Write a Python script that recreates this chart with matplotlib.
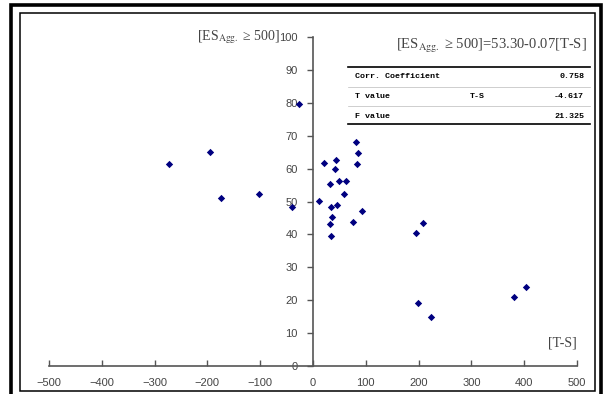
import matplotlib.pyplot as plt
from matplotlib.lines import Line2D
from matplotlib.patches import Rectangle

# data
ts = [-272, -196, -175, -102, -40, -26,
      82, 85, 20, 44, 83, 41.5, 32, 50, 62, 58, 11, 34, 46, 92,
      36.5, 32, 75.5, 34.5, 209, 196,
      198, 223, 380, 403]
es = [61.3, 65, 51, 52.4, 48.3, 79.5,
      68, 64.6, 61.7, 62.7, 61.3, 59.8, 55.4, 56.1, 56.1, 52.3, 50.1, 48.3, 49, 47.2,
      45.2, 43.3, 43.7, 39.6, 43.4, 40.3,
      19.1, 15, 21, 23.9]

x_ticks = [-500, -400, -300, -200, -100, 0, 100, 200, 300, 400, 500]
y_ticks = [0, 10, 20, 30, 40, 50, 60, 70, 80, 90, 100]

equation = r"[ES$_{\mathrm{Agg.}}$ ≥ 500]=53.30-0.07[T-S]"
y_label = r"[ES$_{\mathrm{Agg.}}$ ≥ 500]"
x_label = "[T-S]"
table_rows = [("Corr. Coefficient", "", "0.758"),
              ("T value", "T-S", "-4.617"),
              ("F value", "", "21.325")]

W, H = 606, 394
plt.rcParams['mathtext.fontset'] = 'stix'

fig = plt.figure(figsize=(W / 100, H / 100), dpi=100)


def fx(px):
    return px / W


def fy(py):
    return 1 - py / H


ax = fig.add_axes([fx(49), fy(366), fx(577) - fx(49), fy(37) - fy(366)])
ax.scatter(ts, es, marker='D', s=14, color='#000080', zorder=3, linewidths=0)
ax.set_xlim(-500, 500)
ax.set_ylim(0, 100)
ax.set_xticks(x_ticks)
ax.set_yticks(y_ticks)
ax.set_xticklabels([str(v).replace('-', '\u2212') for v in x_ticks])

for s in ['top', 'right']:
    ax.spines[s].set_visible(False)
ax.spines['left'].set_position(('data', 0))
for s in ['left', 'bottom']:
    ax.spines[s].set_color('#555555')
    ax.spines[s].set_linewidth(1.2)

ax.tick_params(axis='x', direction='in', length=4, width=1, color='#555555',
               labelsize=8, labelcolor='#444444', pad=9)
ax.tick_params(axis='y', direction='out', length=4, width=1, color='#555555',
               labelsize=8, labelcolor='#444444', pad=7)
for lab in ax.get_yticklabels() + ax.get_xticklabels():
    lab.set_fontfamily('Liberation Sans')

# axis titles
fig.text(fx(280), fy(37), y_label, ha='right', va='center', fontsize=10,
         family='Liberation Serif', color='#444444')
fig.text(fx(577), fy(343), x_label, ha='right', va='center', fontsize=10,
         family='Liberation Serif', color='#444444')

# regression equation and table
fig.text(fx(587), fy(46), equation, ha='right', va='center', fontsize=10.5,
         family='Liberation Serif', color='#444444')

fig.add_artist(Line2D([fx(348), fx(590)], [fy(67), fy(67)], color='black', lw=1.2))
fig.add_artist(Line2D([fx(348), fx(590)], [fy(124), fy(124)], color='black', lw=1.2))
for yy in [87, 106]:
    fig.add_artist(Line2D([fx(348), fx(590)], [fy(yy), fy(yy)], color='#bbbbbb', lw=0.5))
row_y = [77, 97, 116]
for (name, mid, val), yy in zip(table_rows, row_y):
    fig.text(fx(355), fy(yy), name, ha='left', va='center', fontsize=6,
             family='Liberation Mono', weight='bold')
    fig.text(fx(470), fy(yy), mid, ha='left', va='center', fontsize=6,
             family='Liberation Mono', weight='bold')
    fig.text(fx(584), fy(yy), val, ha='right', va='center', fontsize=6,
             family='Liberation Mono', weight='bold')

# double frame around the whole picture
fig.add_artist(Rectangle((fx(11), fy(405)), fx(601) - fx(11), fy(5) - fy(405),
                         fill=False, lw=2.6, edgecolor='black'))
fig.add_artist(Rectangle((fx(19.5), fy(391)), fx(595) - fx(19.5), fy(13) - fy(391),
                         fill=False, lw=1.1, edgecolor='black'))

fig.savefig('out.png', dpi=100)
